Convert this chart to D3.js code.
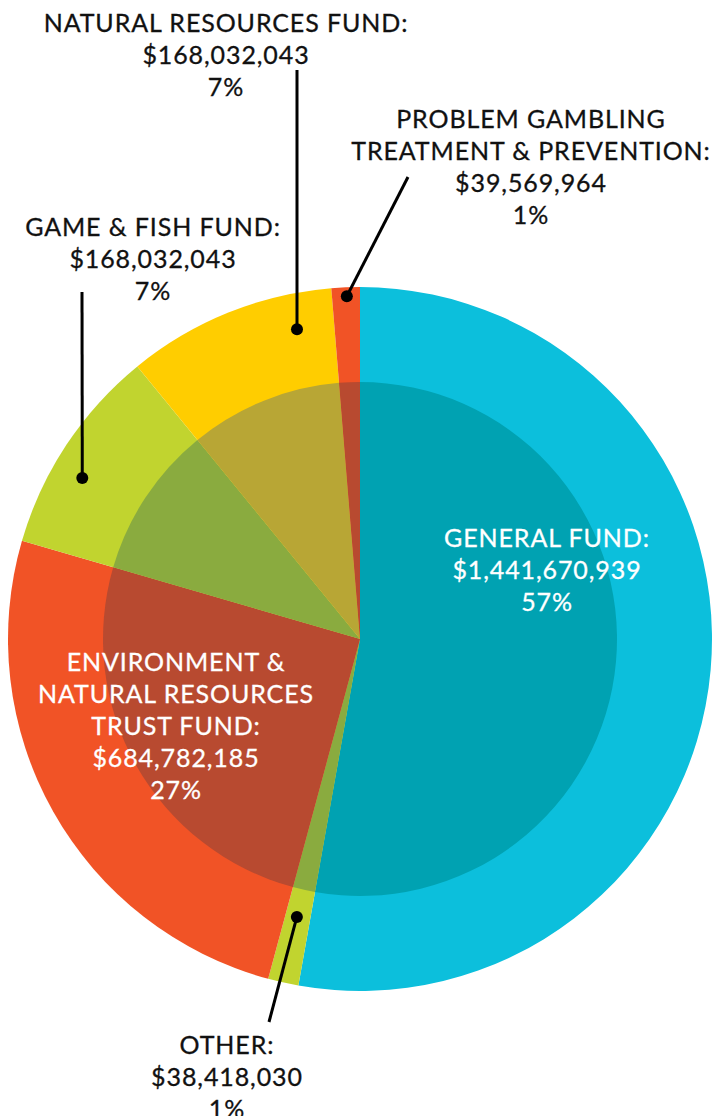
<!DOCTYPE html>
<html>
<head>
<meta charset="utf-8">
<script src="https://cdn.jsdelivr.net/npm/d3@7"></script>
<style>
  html, body { margin: 0; padding: 0; background: #fff; }
  svg { display: block; }
  text { font-family: Lato, "Open Sans", sans-serif; font-size: 25px; font-weight: 400; letter-spacing: 0.9px; }
</style>
</head>
<body>
<div id="chart"></div>
<script>
// funds, clockwise from 12 o'clock
const funds = ["General Fund", "Other", "Environment & Natural Resources Trust Fund",
  "Game & Fish Fund", "Natural Resources Fund", "Problem Gambling Treatment & Prevention"];
const amounts = [1441670939, 38418030, 684782185, 168032043, 168032043, 39569964];
const percents = [57, 1, 27, 7, 7, 1];
// slice sizes as drawn in the picture (percent of the circle)
const sliceShares = [52.8, 1.4, 25.3, 9.6, 9.6, 1.3];
const labelLines = [
  ["GENERAL FUND:"],
  ["OTHER:"],
  ["ENVIRONMENT &", "NATURAL RESOURCES", "TRUST FUND:"],
  ["GAME & FISH FUND:"],
  ["NATURAL RESOURCES FUND:"],
  ["PROBLEM GAMBLING", "TREATMENT & PREVENTION:"]
];

const outerColors = ["#0cbfdc", "#c1d42f", "#f15326", "#c1d42f", "#ffcd00", "#f15326"];
const innerColors = ["#00a2b2", "#8aab3f", "#b84a30", "#8aab3f", "#b8a635", "#b84a30"];

const width = 713, height = 1116;
const cx = 360, cy = 639;
const rOuter = 352, rInner = 257;
const lineH = 32;

const svg = d3.select("#chart").append("svg")
  .attr("width", width)
  .attr("height", height);

const g = svg.append("g").attr("transform", `translate(${cx},${cy})`);

const pie = d3.pie().sort(null).value(d => d.share);
const data = funds.map((f, i) => ({ fund: f, share: sliceShares[i], i: i }));
const arcs = pie(data);

const outerArc = d3.arc().innerRadius(0).outerRadius(rOuter);
const innerArc = d3.arc().innerRadius(0).outerRadius(rInner);

g.append("g").selectAll("path")
  .data(arcs)
  .join("path")
  .attr("d", outerArc)
  .attr("fill", d => outerColors[d.data.i]);

g.append("g").selectAll("path")
  .data(arcs)
  .join("path")
  .attr("d", innerArc)
  .attr("fill", d => innerColors[d.data.i]);

// leader lines: dot at (angle deg, radius) inside the slice, line to a point near the label
const leaders = [
  { i: 4, angle: 348.5, r: 316, to: [297, 70] },
  { i: 5, angle: 357.8, r: 343, to: [408, 177] },
  { i: 3, angle: 300.1, r: 321, to: [82, 292] },
  { i: 1, angle: 192.8, r: 285, to: [269, 1022] }
];

const lg = svg.append("g");
leaders.forEach(l => {
  const p = d3.pointRadial(l.angle * Math.PI / 180, l.r);
  const x = cx + p[0], y = cy + p[1];
  lg.append("line")
    .attr("x1", x).attr("y1", y)
    .attr("x2", l.to[0]).attr("y2", l.to[1])
    .attr("stroke", "#000")
    .attr("stroke-width", 3);
  lg.append("circle")
    .attr("cx", x).attr("cy", y)
    .attr("r", 6)
    .attr("fill", "#000");
});

// label anchors (center x, first baseline) and text colour
const labelPos = [
  { x: 547, y: 547, fill: "#fff" },
  { x: 227, y: 1054, fill: "#111" },
  { x: 176, y: 671, fill: "#fff" },
  { x: 153, y: 236, fill: "#111" },
  { x: 226, y: 32, fill: "#111" },
  { x: 531, y: 128, fill: "#111" }
];

const fmt = d3.format("$,");
const tg = svg.append("g");
funds.forEach((f, i) => {
  const lines = labelLines[i].concat([fmt(amounts[i]), percents[i] + "%"]);
  const pos = labelPos[i];
  const t = tg.append("text")
    .attr("text-anchor", "middle")
    .attr("fill", pos.fill)
    .attr("stroke", pos.fill)
    .attr("stroke-width", 0.3);
  lines.forEach((s, k) => {
    t.append("tspan")
      .attr("x", pos.x)
      .attr("y", pos.y + k * lineH)
      .text(s);
  });
});
</script>
</body>
</html>
